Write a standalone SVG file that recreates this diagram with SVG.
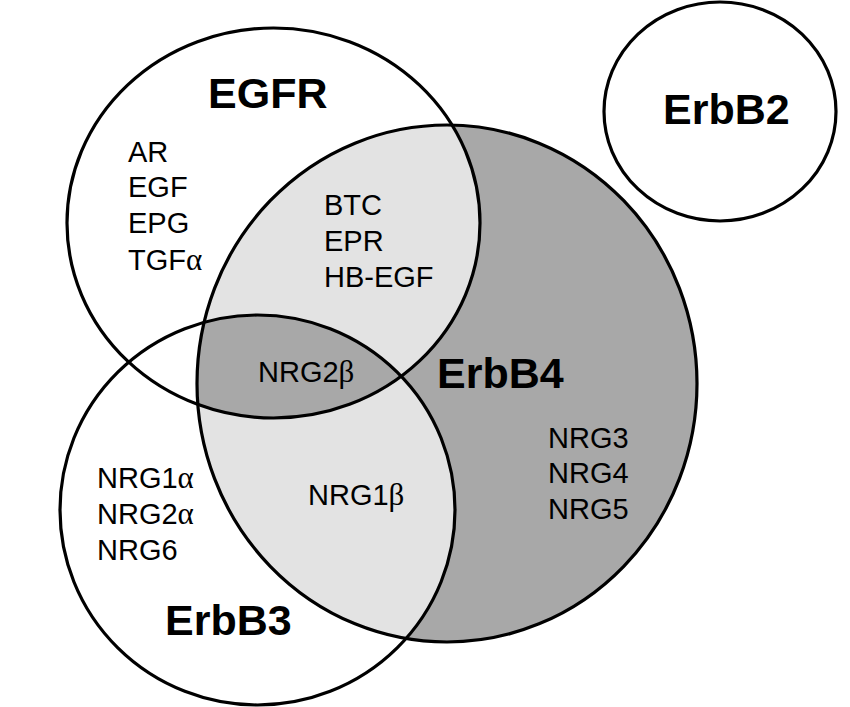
<svg xmlns="http://www.w3.org/2000/svg" width="850" height="707" viewBox="0 0 850 707">
<style>
.ring{fill:none;stroke:#000;stroke-width:3.2}
.dark{fill:#a8a8a8}
.light{fill:#e3e3e3}
.t{font-family:"Liberation Sans",Arial,sans-serif;font-size:29px;fill:#000}
.b{font-family:"Liberation Sans",Arial,sans-serif;font-size:43px;font-weight:bold;fill:#000}
.g{font-family:"Liberation Serif","Times New Roman",serif;font-size:31px}
</style>
<defs>
<clipPath id="cB4"><ellipse cx="447" cy="383.5" rx="250" ry="258.5"/></clipPath>
<clipPath id="cB3"><ellipse cx="257.5" cy="510" rx="197.5" ry="195"/></clipPath>
</defs>
<rect width="850" height="707" fill="#fff"/>
<g id="fills">
<ellipse class="dark" cx="447" cy="383.5" rx="250" ry="258.5"/>
<g clip-path="url(#cB4)">
<ellipse class="light" cx="273.5" cy="223" rx="206.5" ry="195"/>
<ellipse class="light" cx="257.5" cy="510" rx="197.5" ry="195"/>
<g clip-path="url(#cB3)">
<ellipse class="dark" cx="273.5" cy="223" rx="206.5" ry="195"/>
</g>
</g>
</g>
<g id="EGFR">
<ellipse class="ring" cx="273.5" cy="223" rx="206.5" ry="195"/>
<text class="b" x="208" y="108">EGFR</text>
<text class="t" x="128" y="162">AR</text>
<text class="t" x="128" y="197">EGF</text>
<text class="t" x="128" y="233">EPG</text>
<text class="t" x="128" y="270">TGF<tspan class="g">α</tspan></text>
</g>
<g id="ErbB4">
<ellipse class="ring" cx="447" cy="383.5" rx="250" ry="258.5"/>
<text class="b" x="437" y="388">ErbB4</text>
<text class="t" x="548" y="448">NRG3</text>
<text class="t" x="548" y="483">NRG4</text>
<text class="t" x="548" y="519">NRG5</text>
</g>
<g id="ErbB3">
<ellipse class="ring" cx="257.5" cy="510" rx="197.5" ry="195"/>
<text class="b" x="165" y="635">ErbB3</text>
<text class="t" x="97" y="488">NRG1<tspan class="g">α</tspan></text>
<text class="t" x="97" y="524">NRG2<tspan class="g">α</tspan></text>
<text class="t" x="97" y="560">NRG6</text>
</g>
<g id="ErbB2">
<ellipse class="ring" cx="720" cy="111.5" rx="116" ry="109.5"/>
<text class="b" x="663" y="124">ErbB2</text>
</g>
<g id="shared">
<text class="t" x="324" y="215">BTC</text>
<text class="t" x="324" y="251">EPR</text>
<text class="t" x="324" y="287">HB-EGF</text>
<text class="t" x="258" y="382">NRG2<tspan class="g">β</tspan></text>
<text class="t" x="308" y="505">NRG1<tspan class="g">β</tspan></text>
</g>
<g id="connectors"></g>
</svg>
